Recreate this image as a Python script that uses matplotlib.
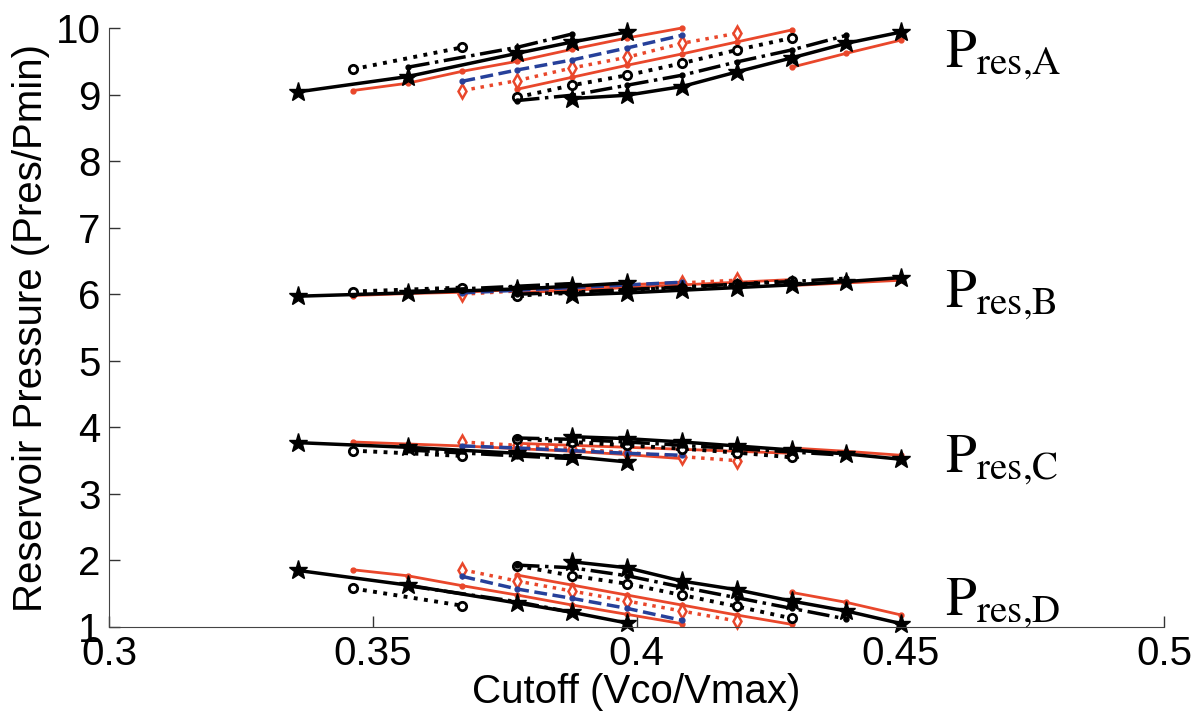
import numpy as np
import matplotlib.pyplot as plt

plt.rcParams['font.family'] = ['Liberation Sans', 'DejaVu Sans']
plt.rcParams['mathtext.fontset'] = 'stix'

# cutoff grid (Vco/Vmax)
cutoff = np.array([0.3358, 0.3462, 0.3566, 0.3670, 0.3774, 0.3878,
                   0.3982, 0.4086, 0.4190, 0.4294, 0.4398, 0.4502])

groups = ['A', 'B', 'C', 'D']
label_y = [9.41, 5.80, 3.33, 1.18]

# ---- first sweep ----
star1_idx = [0, 2, 4, 5, 6]
star1 = {'A': [9.04, 9.27, 9.62, 9.79, 9.94],
         'B': [5.97, 6.02, 6.08, 6.12, 6.17],
         'C': [3.77, 3.70, 3.61, 3.56, 3.48],
         'D': [1.85, 1.63, 1.36, 1.22, 1.06]}

red1_idx = [1, 2, 3, 4, 5, 6, 7]
red1 = {'A': [9.06, 9.17, 9.35, 9.50, 9.68, 9.85, 10.0],
        'B': [5.98, 6.01, 6.03, 6.07, 6.10, 6.14, 6.18],
        'C': [3.78, 3.75, 3.72, 3.68, 3.64, 3.59, 3.53],
        'D': [1.86, 1.77, 1.62, 1.48, 1.33, 1.19, 1.05]}

circ1_idx = [1, 3]
circ1 = {'A': [9.38, 9.71],
         'B': [6.04, 6.10],
         'C': [3.65, 3.57],
         'D': [1.58, 1.32]}

dash1_idx = [2, 4, 5]
dash1 = {'A': [9.41, 9.71, 9.91],
         'B': [6.04, 6.12, 6.16],
         'C': [3.66, 3.57, 3.53],
         'D': [1.62, 1.38, 1.22]}

blue1_idx = [3, 4, 5, 6, 7]
blue1 = {'A': [9.20, 9.37, 9.52, 9.70, 9.89],
         'B': [6.02, 6.06, 6.10, 6.14, 6.18],
         'C': [3.72, 3.69, 3.65, 3.61, 3.58],
         'D': [1.76, 1.57, 1.43, 1.28, 1.10]}

diam1_idx = [3, 4, 5, 6, 7, 8]
diam1 = {'A': [9.06, 9.21, 9.40, 9.56, 9.77, 9.92],
         'B': [6.00, 6.05, 6.09, 6.13, 6.17, 6.21],
         'C': [3.78, 3.73, 3.68, 3.62, 3.56, 3.50],
         'D': [1.86, 1.69, 1.54, 1.39, 1.24, 1.09]}

# ---- second sweep ----
red2_idx = [4, 5, 6, 7, 8, 9]
red2 = {'A': [9.08, 9.26, 9.44, 9.61, 9.79, 9.97],
        'B': [6.02, 6.06, 6.10, 6.14, 6.18, 6.22],
        'C': [3.76, 3.73, 3.70, 3.67, 3.64, 3.61],
        'D': [1.78, 1.63, 1.48, 1.33, 1.18, 1.04]}

circ2_idx = [4, 5, 6, 7, 8, 9]
circ2 = {'A': [8.96, 9.14, 9.29, 9.47, 9.67, 9.85],
         'B': [5.98, 6.02, 6.06, 6.10, 6.15, 6.20],
         'C': [3.83, 3.78, 3.73, 3.68, 3.62, 3.55],
         'D': [1.92, 1.77, 1.65, 1.48, 1.31, 1.13]}

dash2_idx = [4, 5, 6, 7, 8, 9, 10]
dash2 = {'A': [8.91, 8.99, 9.14, 9.29, 9.49, 9.67, 9.89],
         'B': [6.00, 6.03, 6.07, 6.11, 6.15, 6.19, 6.24],
         'C': [3.84, 3.82, 3.78, 3.73, 3.68, 3.63, 3.58],
         'D': [1.93, 1.89, 1.77, 1.60, 1.44, 1.28, 1.12]}

star2_idx = [5, 6, 7, 8, 9, 10, 11]
star2 = {'A': [8.94, 8.99, 9.12, 9.34, 9.55, 9.77, 9.94],
         'B': [5.99, 6.02, 6.06, 6.10, 6.14, 6.19, 6.25],
         'C': [3.86, 3.83, 3.78, 3.72, 3.66, 3.60, 3.52],
         'D': [1.98, 1.89, 1.69, 1.56, 1.39, 1.24, 1.05]}

red3_idx = [9, 10, 11]
red3 = {'A': [9.41, 9.62, 9.82],
        'B': [6.13, 6.17, 6.21],
        'C': [3.69, 3.64, 3.58],
        'D': [1.52, 1.37, 1.18]}

RED = '#e9472b'
BLUE = '#26409a'

styles = [
    (red1, red1_idx, dict(color=RED, ls='-', lw=2, marker='.', ms=7)),
    (red2, red2_idx, dict(color=RED, ls='-', lw=2, marker='.', ms=7)),
    (red3, red3_idx, dict(color=RED, ls='-', lw=2, marker='.', ms=7)),
    (diam1, diam1_idx, dict(color=RED, ls=':', lw=2.5, marker='d', ms=7,
                            mfc='white', mew=1.8)),
    (blue1, blue1_idx, dict(color=BLUE, ls='--', lw=2.5, marker='.', ms=7)),
    (circ1, circ1_idx, dict(color='k', ls=':', lw=2.8, marker='o', ms=6,
                            mfc='white', mew=2)),
    (circ2, circ2_idx, dict(color='k', ls=':', lw=2.8, marker='o', ms=6,
                            mfc='white', mew=2)),
    (dash1, dash1_idx, dict(color='k', ls='-.', lw=2.5, marker='.', ms=7)),
    (dash2, dash2_idx, dict(color='k', ls='-.', lw=2.5, marker='.', ms=7)),
    (star1, star1_idx, dict(color='k', ls='-', lw=2.5, marker='*', ms=14)),
    (star2, star2_idx, dict(color='k', ls='-', lw=2.5, marker='*', ms=14)),
]

fig = plt.figure(figsize=(11.98, 7.15), dpi=100)
ax = fig.add_axes([109/1198, 1-627/715, (1164-109)/1198, (627-28)/715])

for g in groups:
    for vals, idx, st in styles:
        ax.plot(cutoff[idx], vals[g], clip_on=False, **st)

for g, yl in zip(groups, label_y):
    ax.text(0.4585, yl, r'$\mathrm{P}_{\mathrm{res{,}%s}}$' % g, fontsize=40,
            ha='left', va='baseline')

ax.set_xlim(0.3, 0.5)
ax.set_ylim(1, 10)
ax.set_xticks([0.3, 0.35, 0.4, 0.45, 0.5])
ax.set_xticklabels(['0.3', '0.35', '0.4', '0.45', '0.5'])
ax.set_yticks(range(1, 11))
ax.tick_params(direction='in', length=8, width=1, labelsize=29, pad=6,
               colors='#333333', labelcolor='black')
for s in ['top', 'right']:
    ax.spines[s].set_visible(False)
for s in ['left', 'bottom']:
    ax.spines[s].set_color('#444444')
ax.set_xlabel('Cutoff (Vco/Vmax)', fontsize=29, labelpad=0)
ax.set_ylabel('Reservoir Pressure (Pres/Pmin)', fontsize=29, labelpad=4)

fig.savefig('out.png', dpi=100)
